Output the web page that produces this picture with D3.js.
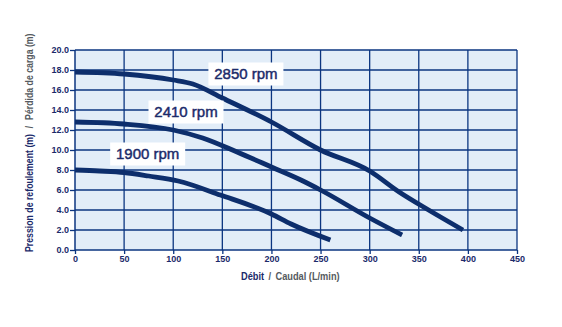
<!DOCTYPE html>
<html>
<head>
<meta charset="utf-8">
<script src="https://cdn.jsdelivr.net/npm/d3@7"></script>
<style>
  html, body { margin: 0; padding: 0; background: #ffffff; }
  svg { display: block; }
</style>
</head>
<body>
<svg id="chart" width="562" height="327"></svg>
<script>
// Pump performance curves: flow (L/min) vs. head (m) at three speeds
const speeds = ["2850 rpm", "2410 rpm", "1900 rpm"];

const flow2850 = [0, 50, 100, 120, 150, 200, 250, 300, 330, 360, 395];
const head2850 = [17.8, 17.6, 17.0, 16.6, 15.2, 12.8, 10.0, 7.9, 5.8, 4.0, 2.0];

const flow2410 = [0, 50, 100, 130, 165, 200, 230, 250, 300, 333];
const head2410 = [12.8, 12.6, 12.0, 11.2, 9.8, 8.3, 7.0, 6.0, 3.2, 1.5];

const flow1900 = [0, 25, 50, 75, 105, 148, 200, 220, 260];
const head1900 = [8.0, 7.9, 7.75, 7.4, 6.9, 5.5, 3.6, 2.6, 1.0];

const xTicks = [0, 50, 100, 150, 200, 250, 300, 350, 400, 450];
const yTicks = [0, 2, 4, 6, 8, 10, 12, 14, 16, 18, 20];

const series = [
  { name: speeds[0], flow: flow2850, head: head2850 },
  { name: speeds[1], flow: flow2410, head: head2410 },
  { name: speeds[2], flow: flow1900, head: head1900 }
];

// where each speed label sits, in data units (box centre)
const labelAt = [
  { q: 174, h: 17.6 },
  { q: 113, h: 13.8 },
  { q: 74, h: 9.6 }
];

const W = 562, H = 327;
const margin = { top: 50, right: 45, bottom: 77, left: 75 };
const iw = W - margin.left - margin.right;
const ih = H - margin.top - margin.bottom;

const navy = "#0b3580";
const curveCol = "#0d2e6c";
const textNavy = "#1b2a6a";
const grey = "#555a60";

const svg = d3.select("#chart");
const g = svg.append("g").attr("transform", `translate(${margin.left},${margin.top})`);

const x = d3.scaleLinear().domain([0, 450]).range([0, iw]);
const y = d3.scaleLinear().domain([0, 20]).range([ih, 0]);

// plot background
g.append("rect").attr("width", iw).attr("height", ih).attr("fill", "#e2edf8");

// grid
g.append("g").selectAll("line").data(xTicks.slice(1)).join("line")
  .attr("x1", d => x(d)).attr("x2", d => x(d)).attr("y1", 0).attr("y2", ih)
  .attr("stroke", navy).attr("stroke-width", 1.3);
g.append("g").selectAll("line").data(yTicks.slice(1)).join("line")
  .attr("x1", 0).attr("x2", iw).attr("y1", d => y(d)).attr("y2", d => y(d))
  .attr("stroke", navy).attr("stroke-width", 1.3);

// axes
const xAxis = d3.axisBottom(x).tickValues(xTicks).tickSize(4).tickPadding(2).tickFormat(d3.format("d"));
const yAxis = d3.axisLeft(y).tickValues(yTicks).tickSize(5).tickPadding(1).tickFormat(d3.format(".1f"));

const gx = g.append("g").attr("transform", `translate(0,${ih})`).call(xAxis);
const gy = g.append("g").call(yAxis);
[gx, gy].forEach(a => {
  a.select(".domain").attr("stroke", navy).attr("stroke-width", 1.5);
  a.selectAll(".tick line").attr("stroke", navy).attr("stroke-width", 1.3);
  a.selectAll(".tick text")
    .attr("fill", textNavy)
    .style("font-family", "'Liberation Sans', Arial, sans-serif")
    .style("font-weight", "bold")
    .style("font-size", "9px");
});
gx.select(".domain").attr("d", `M0,0H${iw}`);
gy.select(".domain").attr("d", `M0,${ih}V0`);

// curves
const line = d3.line()
  .x(d => x(d[0]))
  .y(d => y(d[1]))
  .curve(d3.curveMonotoneX);

g.append("g").selectAll("path").data(series).join("path")
  .attr("d", s => line(s.flow.map((q, i) => [q, s.head[i]])))
  .attr("fill", "none")
  .attr("stroke", curveCol)
  .attr("stroke-width", 4.8)
  .attr("stroke-linecap", "butt")
  .attr("stroke-linejoin", "round");

// speed labels on white boxes
const lab = g.append("g").selectAll("g").data(series).join("g")
  .attr("transform", (s, i) => `translate(${x(labelAt[i].q)},${y(labelAt[i].h)})`);
lab.append("rect")
  .attr("x", -37.5).attr("y", -11.5).attr("width", 75).attr("height", 23)
  .attr("fill", "#ffffff");
lab.append("text")
  .attr("text-anchor", "middle").attr("dy", "0.36em")
  .attr("fill", textNavy)
  .attr("stroke", textNavy)
  .attr("stroke-width", 0.45)
  .style("font-family", "'Liberation Sans', Arial, sans-serif")
  .style("font-size", "15px")
  .text(s => s.name);

// axis titles, squeezed horizontally to a condensed look
const titleFont = "'Liberation Sans', Arial, sans-serif";

function condensedTitle(parent, transform, width, parts) {
  const outer = parent.append("g").attr("transform", transform);
  const inner = outer.append("g");
  const t = inner.append("text")
    .style("font-family", titleFont)
    .style("font-weight", "bold")
    .style("font-size", "10.5px");
  parts.forEach((p, i) => {
    const ts = t.append("tspan").attr("fill", p.color).text(p.text);
    if (i > 0) ts.attr("dx", p.gap);
  });
  const natural = t.node().getComputedTextLength();
  inner.attr("transform", `scale(${width / natural},1)`);
}

condensedTitle(svg, "translate(241,280)", 90, [
  { text: "Débit", color: textNavy },
  { text: "/", color: grey, gap: 5 },
  { text: "Caudal (L/min)", color: grey, gap: 5 }
]);

condensedTitle(svg, "translate(33,252) rotate(-90)", 207, [
  { text: "Pression de refoulement (m)", color: textNavy },
  { text: "/", color: grey, gap: 7 },
  { text: "Pérdida de carga (m)", color: grey, gap: 7 }
]);
</script>
</body>
</html>
